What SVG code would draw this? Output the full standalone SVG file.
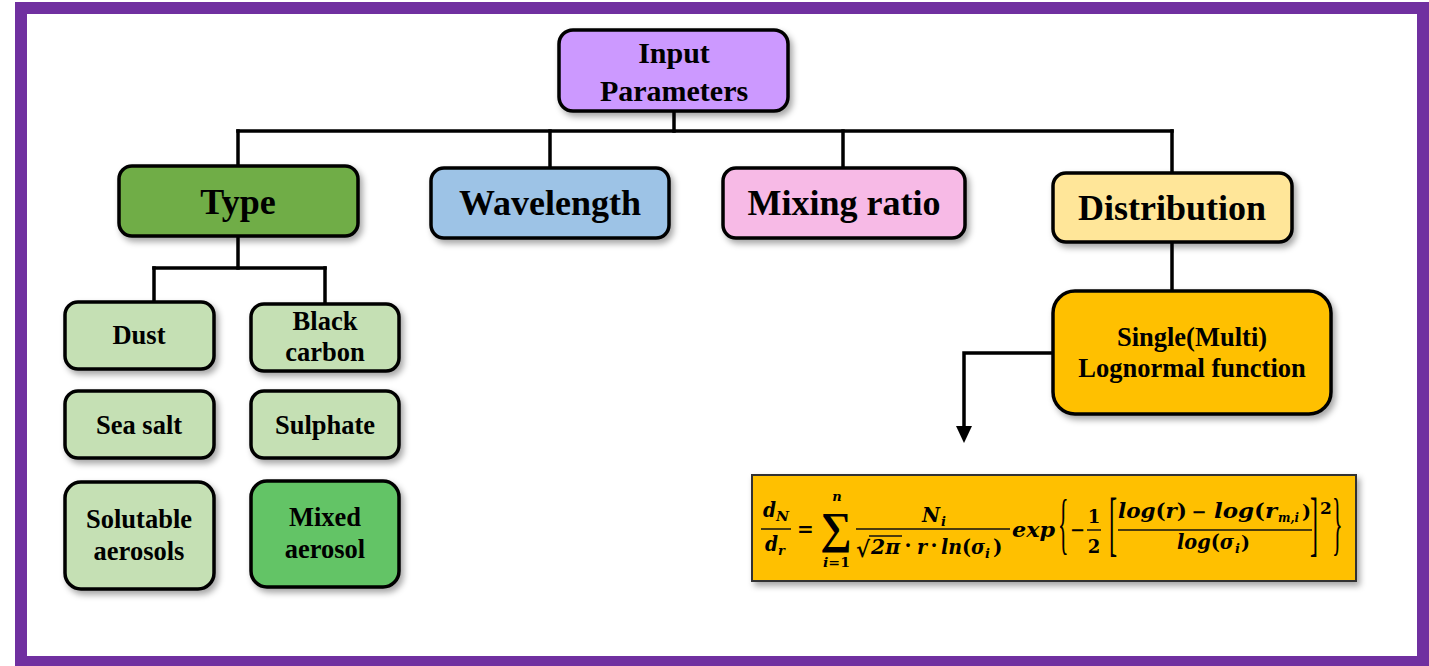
<svg xmlns="http://www.w3.org/2000/svg" width="1429" height="666" viewBox="0 0 1429 666">
  <defs>
    <filter id="shadow" x="-10%" y="-10%" width="130%" height="140%">
      <feDropShadow dx="3" dy="4" stdDeviation="3" flood-color="#000" flood-opacity="0.35"/>
    </filter>
  </defs>
  <style>
    .box { stroke: #000; stroke-width: 3.5; filter: url(#shadow); }
    .lbl { font-family: "Liberation Serif", "Times New Roman", serif; font-weight: bold; fill: #000; text-anchor: middle; }
    .l1 { font-size: 36px; }
    .l0 { font-size: 30px; }
    .l2 { font-size: 26.5px; }
    .l3 { font-size: 26.5px; }
    .wire { stroke: #000; stroke-width: 3.5; fill: none; stroke-linecap: square; }
    .m { font-family: "DejaVu Serif", "Liberation Serif", serif; font-weight: bold; font-style: italic; fill: #000; font-size: 20px; }
    .s { font-size: 13px; }
    .mu { font-family: "DejaVu Serif", "Liberation Serif", serif; font-weight: bold; fill: #000; }
    .p { font-style: normal; }
    .delim { font-family: "Liberation Serif", "Times New Roman", serif; font-size: 44px; fill: #000; }
    .bar { stroke: #111; stroke-width: 1.5; }
  </style>

  <rect width="1429" height="666" fill="#fff"/>
  <!-- outer frame -->
  <rect x="21" y="8" width="1402" height="654" fill="none" stroke="#7030A0" stroke-width="12"/>

  <!-- connectors -->
  <g id="connectors">
    <line class="wire" x1="674" y1="111" x2="674" y2="131"/>
    <line class="wire" x1="238" y1="131" x2="1172" y2="131"/>
    <line class="wire" x1="238" y1="131" x2="238" y2="165"/>
    <line class="wire" x1="550" y1="131" x2="550" y2="167"/>
    <line class="wire" x1="843" y1="131" x2="843" y2="167"/>
    <line class="wire" x1="1172" y1="131" x2="1172" y2="172"/>
    <line class="wire" x1="238" y1="236" x2="238" y2="268"/>
    <line class="wire" x1="154" y1="268" x2="325" y2="268"/>
    <line class="wire" x1="154" y1="268" x2="154" y2="301"/>
    <line class="wire" x1="325" y1="268" x2="325" y2="303"/>
    <line class="wire" x1="1172" y1="242" x2="1172" y2="290"/>
    <polyline class="wire" points="1052,353 964,353 964,428"/>
    <path d="M956,426 L972,426 L964,443 Z" fill="#000"/>
  </g>

  <g id="input-parameters">
    <rect class="box" x="559" y="30" width="229" height="81" rx="14" fill="#CC99FF"/>
    <text class="lbl l0" x="674" y="63">Input</text>
    <text class="lbl l0" x="674" y="101">Parameters</text>
  </g>

  <g id="type">
    <rect class="box" x="119" y="166" width="239" height="70" rx="13" fill="#70AD47"/>
    <text class="lbl l1" x="238" y="214">Type</text>
  </g>

  <g id="wavelength">
    <rect class="box" x="431" y="168" width="238" height="70" rx="13" fill="#9DC3E6"/>
    <text class="lbl l1" x="550" y="215">Wavelength</text>
  </g>

  <g id="mixing-ratio">
    <rect class="box" x="723" y="168" width="242" height="70" rx="13" fill="#F7BAE6"/>
    <text class="lbl l1" x="844" y="215">Mixing ratio</text>
  </g>

  <g id="distribution">
    <rect class="box" x="1053" y="173" width="239" height="69" rx="13" fill="#FFE699"/>
    <text class="lbl l1" x="1172" y="220">Distribution</text>
  </g>

  <g id="dust">
    <rect class="box" x="65" y="302" width="149" height="67" rx="13" fill="#C5E0B4"/>
    <text class="lbl l2" x="139" y="344">Dust</text>
  </g>

  <g id="black-carbon">
    <rect class="box" x="251" y="304" width="148" height="67" rx="13" fill="#C5E0B4"/>
    <text class="lbl l2" x="325" y="330">Black</text>
    <text class="lbl l2" x="325" y="361">carbon</text>
  </g>

  <g id="sea-salt">
    <rect class="box" x="65" y="391" width="149" height="67" rx="13" fill="#C5E0B4"/>
    <text class="lbl l2" x="139" y="434">Sea salt</text>
  </g>

  <g id="sulphate">
    <rect class="box" x="251" y="391" width="148" height="67" rx="13" fill="#C5E0B4"/>
    <text class="lbl l2" x="325" y="434">Sulphate</text>
  </g>

  <g id="solutable-aerosols">
    <rect class="box" x="65" y="482" width="149" height="107" rx="16" fill="#C5E0B4"/>
    <text class="lbl l2" x="139" y="528">Solutable</text>
    <text class="lbl l2" x="139" y="560">aerosols</text>
  </g>

  <g id="mixed-aerosol">
    <rect class="box" x="251" y="481" width="148" height="106" rx="16" fill="#63C466"/>
    <text class="lbl l2" x="325" y="526">Mixed</text>
    <text class="lbl l2" x="325" y="558">aerosol</text>
  </g>

  <g id="lognormal">
    <rect class="box" x="1053" y="291" width="278" height="123" rx="22" fill="#FFC000"/>
    <text class="lbl l3" x="1192" y="346">Single(Multi)</text>
    <text class="lbl l3" x="1192" y="377">Lognormal function</text>
  </g>

  <!-- size distribution equation -->
  <g id="equation">
    <rect x="752" y="475" width="604" height="106" fill="#FFC000" stroke="#333" stroke-width="2" filter="url(#shadow)"/>
    <!-- dN/dr -->
    <text class="m" x="763" y="517" textLength="13" lengthAdjust="spacingAndGlyphs">d</text>
    <text class="m s" x="776" y="521" textLength="13" lengthAdjust="spacingAndGlyphs">N</text>
    <line class="bar" x1="761" y1="529" x2="791" y2="529"/>
    <text class="m" x="765" y="551" textLength="13" lengthAdjust="spacingAndGlyphs">d</text>
    <text class="m s" x="778" y="555">r</text>
    <text class="mu" x="805.5" y="536" font-size="20" font-weight="normal" text-anchor="middle">=</text>
    <!-- summation i = 1 .. n -->
    <text class="delim" x="836" y="543" font-size="50" font-weight="bold" text-anchor="middle">∑</text>
    <text class="m s" x="837" y="501" text-anchor="middle">n</text>
    <text class="m s" x="823" y="567" textLength="27" lengthAdjust="spacingAndGlyphs">i<tspan class="p">=1</tspan></text>
    <!-- N_i over sqrt(2 pi) . r . ln(sigma_i) -->
    <text class="m" x="922" y="522" textLength="18" lengthAdjust="spacingAndGlyphs">N</text>
    <text class="m s" x="941" y="526">i</text>
    <line class="bar" x1="856" y1="529" x2="1010" y2="529"/>
    <text class="mu" x="856" y="557" font-size="22" font-weight="normal" textLength="14" lengthAdjust="spacingAndGlyphs">√</text>
    <line class="bar" x1="869" y1="536" x2="902" y2="536"/>
    <text class="m" x="871" y="554" textLength="29" lengthAdjust="spacingAndGlyphs">2π</text>
    <text class="mu" x="908" y="552" font-size="20" text-anchor="middle">·</text>
    <text class="m" x="917" y="554" textLength="10" lengthAdjust="spacingAndGlyphs">r</text>
    <text class="mu" x="934" y="552" font-size="20" text-anchor="middle">·</text>
    <text class="m" x="941" y="554" textLength="44" lengthAdjust="spacingAndGlyphs">ln<tspan class="p">(</tspan>σ</text>
    <text class="m s" x="985" y="558">i</text>
    <text class="mu" x="993" y="554" font-size="20">)</text>
    <text class="m" x="1012" y="537" textLength="43" lengthAdjust="spacingAndGlyphs">exp</text>
    <!-- braces and brackets -->
    <text class="delim" transform="translate(1058,546) scale(0.5,1.55)">{</text>
    <text class="mu" x="1077.5" y="536" font-size="18" font-weight="normal" text-anchor="middle">−</text>
    <text class="mu" x="1094" y="523" font-size="18" text-anchor="middle">1</text>
    <line class="bar" x1="1087" y1="530" x2="1101" y2="530"/>
    <text class="mu" x="1094" y="553" font-size="18" text-anchor="middle">2</text>
    <text class="delim" transform="translate(1109,547) scale(0.55,1.65)">[</text>
    <text class="m" x="1118" y="518" textLength="69" lengthAdjust="spacingAndGlyphs">log<tspan class="p">(</tspan>r<tspan class="p">)</tspan></text>
    <text class="mu" x="1199" y="518" font-size="18" font-weight="normal" text-anchor="middle">−</text>
    <text class="m" x="1214" y="518" textLength="63" lengthAdjust="spacingAndGlyphs">log<tspan class="p">(</tspan>r</text>
    <text class="m s" x="1278" y="522" textLength="21" lengthAdjust="spacingAndGlyphs">m,i</text>
    <text class="mu" x="1302" y="518" font-size="19">)</text>
    <line class="bar" x1="1118" y1="530" x2="1312" y2="530"/>
    <text class="m" x="1177" y="549" textLength="57" lengthAdjust="spacingAndGlyphs">log<tspan class="p">(</tspan>σ</text>
    <text class="m s" x="1235" y="553">i</text>
    <text class="mu" x="1241" y="549" font-size="19">)</text>
    <text class="delim" transform="translate(1310,547) scale(0.55,1.65)">]</text>
    <text class="mu" x="1320" y="514" font-size="17">2</text>
    <text class="delim" transform="translate(1332,547) scale(0.5,1.6)">}</text>
  </g>
</svg>
